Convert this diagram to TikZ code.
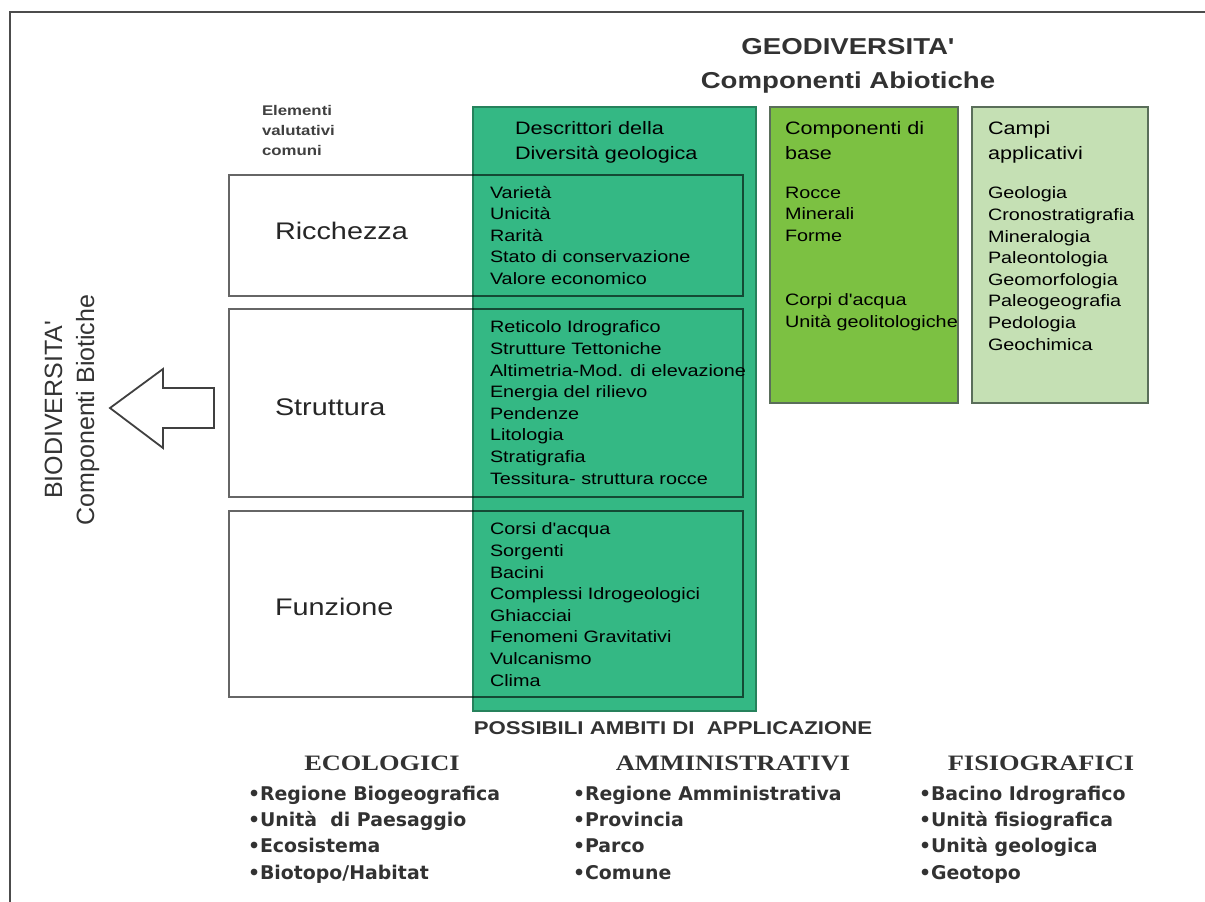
\documentclass[tikz,border=0pt]{standalone}
\usepackage{fontspec}
\setmainfont{Liberation Sans}
\newfontfamily\ar[FakeStretch=1.2]{Liberation Sans}
\newfontfamily\arn{Liberation Sans}
\newfontfamily\tmr[FakeStretch=1.2]{Liberation Serif}
\newfontfamily\dvs{DejaVu Sans}
\definecolor{geoGreen}{RGB}{52,184,132}
\definecolor{geoBorder}{RGB}{38,130,92}
\definecolor{baseGreen}{RGB}{124,193,66}
\definecolor{campiGreen}{RGB}{197,224,180}
\definecolor{sideBorder}{RGB}{90,110,90}
\definecolor{darktext}{RGB}{50,50,50}
\begin{document}
\begin{tikzpicture}[x=1pt,y=-1pt,
  every node/.style={inner sep=0pt, outer sep=0pt},
  panel/.style={anchor=north west, line width=1.5pt},
  rowbox/.style={anchor=north west, draw=black, draw opacity=0.6, line width=1.6pt},
  rowlabel/.style={anchor=west, font=\ar\fontsize{24}{28}\selectfont, text=black!85},
  itemlist/.style={anchor=north west, align=left, font=\ar\fontsize{16.5}{21.6}\selectfont, text=black},
  boxhead/.style={anchor=north west, align=left, font=\ar\fontsize{18}{25.5}\selectfont, text=black},
  titletext/.style={font=\ar\bfseries\fontsize{23}{28}\selectfont, text=darktext},
  bulletlist/.style={anchor=north west, align=left, font=\dvs\bfseries\fontsize{18.9}{26.3}\selectfont, text=darktext},
  areahead/.style={anchor=base, font=\tmr\bfseries\fontsize{22}{26}\selectfont, text=darktext},
  arrowshape/.style={draw=black!75, fill=white, line width=1.8pt, line join=miter},
  frameline/.style={draw=black!70, line width=2pt}]
\useasboundingbox (0,0) rectangle (1205,902);
% frame
\draw[frameline] (10,902) -- (10,12) -- (1205,12);
% titles
\node[titletext] (geo) at (848,47) {GEODIVERSITA'};
\node[titletext] (abio) at (848,83) {Componenti Abiotiche};
% column panels
\node[panel, fill=geoGreen, draw=geoBorder, minimum width=283pt, minimum height=604pt] (desc) at (473,107) {};
\node[panel, fill=baseGreen, draw=sideBorder, minimum width=188pt, minimum height=296pt] (base) at (770,107) {};
\node[panel, fill=campiGreen, draw=sideBorder, minimum width=176pt, minimum height=296pt] (campi) at (972,107) {};
% rows
\node[rowbox, minimum width=514pt, minimum height=121pt] (ric) at (229,175) {};
\node[rowbox, minimum width=514pt, minimum height=188pt] (str) at (229,309) {};
\node[rowbox, minimum width=514pt, minimum height=186pt] (fun) at (229,511) {};
% row labels
\node[rowlabel] (ricl) at (275,231) {Ricchezza};
\node[rowlabel] (strl) at (275,407) {Struttura};
\node[rowlabel] (funl) at (275,607) {Funzione};
% elementi
\node[anchor=north west, align=left, font=\ar\bfseries\fontsize{14}{20}\selectfont, text=black!75] (elem) at (262,105) {Elementi\\valutativi\\comuni};
% headings in panels
\node[boxhead] (desch) at (515,121) {Descrittori della\\Diversità geologica};
\node[boxhead] (baseh) at (785,121) {Componenti di\\base};
\node[boxhead] (campih) at (988,121) {Campi\\applicativi};
% lists
\node[itemlist] (ricitems) at (490,186) {Varietà\\Unicità\\Rarità\\Stato di conservazione\\Valore economico};
\node[itemlist] (stritems) at (490,321) {Reticolo Idrografico\\Strutture Tettoniche\\Altimetria-Mod. di elevazione\\Energia del rilievo\\Pendenze\\Litologia\\Stratigrafia\\Tessitura- struttura rocce};
\node[itemlist] (funitems) at (490,523) {Corsi d'acqua\\Sorgenti\\Bacini\\Complessi Idrogeologici\\Ghiacciai\\Fenomeni Gravitativi\\Vulcanismo\\Clima};
\node[itemlist] (baseitems) at (785,187) {Rocce\\Minerali\\Forme};
\node[itemlist] (baseitems2) at (785,294) {Corpi d'acqua\\Unità geolitologiche};
\node[itemlist] (campiitems) at (988,187) {Geologia\\Cronostratigrafia\\Mineralogia\\Paleontologia\\Geomorfologia\\Paleogeografia\\Pedologia\\Geochimica};
% biodiversita
\node[rotate=90, align=center, font=\arn\fontsize{25}{32}\selectfont, text=black!80] (bio) at (72,410) {BIODIVERSITA'\\Componenti Biotiche};
\draw[arrowshape] (214,388) -- (163,388) -- (163,369) -- (110,408) -- (163,448) -- (163,428) -- (214,428) -- cycle;
% bottom
\node[anchor=base, font=\ar\bfseries\fontsize{18.5}{22}\selectfont, text=darktext] (poss) at (673,734) {POSSIBILI AMBITI DI\ \ APPLICAZIONE};
\node[areahead] (eco) at (382,770) {ECOLOGICI};
\node[areahead] (amm) at (733,770) {AMMINISTRATIVI};
\node[areahead] (fis) at (1041,770) {FISIOGRAFICI};
\node[bulletlist] (ecol) at (248,786) {•Regione Biogeografica\\•Unità\ \ di Paesaggio\\•Ecosistema\\•Biotopo/Habitat};
\node[bulletlist] (amml) at (573,786) {•Regione Amministrativa\\•Provincia\\•Parco\\•Comune};
\node[bulletlist] (fisl) at (919,786) {•Bacino Idrografico\\•Unità fisiografica\\•Unità geologica\\•Geotopo};
\end{tikzpicture}
\end{document}
